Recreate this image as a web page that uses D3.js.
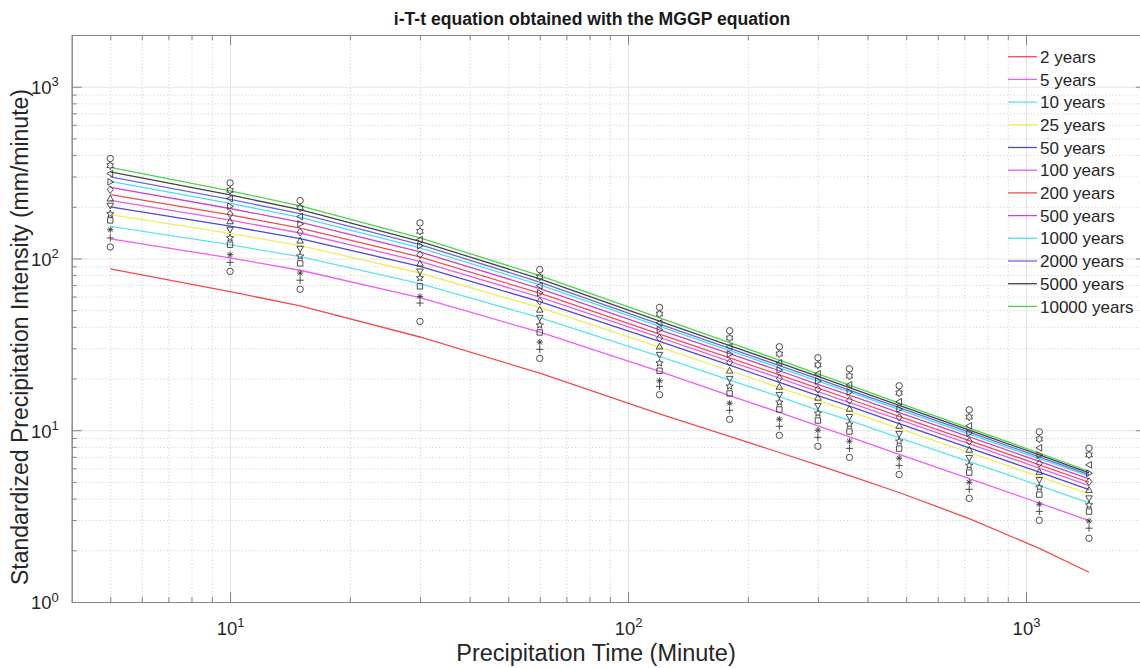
<!DOCTYPE html>
<html>
<head>
<meta charset="utf-8">
<script src="https://cdn.jsdelivr.net/npm/d3@7"></script>
<style>
  html, body { margin: 0; padding: 0; background: #fff; }
  svg { display: block; font-family: "Liberation Sans", Arial, Helvetica, sans-serif; }
</style>
</head>
<body>
<svg id="chart" width="1140" height="668"></svg>
<script>
// ---------------- DATA ----------------
const durations = [5, 10, 15, 30, 60, 120, 180, 240, 300, 360, 480, 720, 1080, 1440];
const periodLabels = ["2 years", "5 years", "10 years", "25 years", "50 years", "100 years",
  "200 years", "500 years", "1000 years", "2000 years", "5000 years", "10000 years"];
const lineColors = ["#f24b4b", "#f25cf2", "#5ce6ec", "#eeee5a", "#4b4bd9", "#e860e8",
  "#ef4f4f", "#cc44cc", "#4cdcf0", "#6a6ae0", "#444444", "#4cd44c"];
const markerTypes = ["o", "+", "*", "s", "p", "v", "^", "d", ">", "<", "h", "o"];

// fitted (MGGP) curves
const fit2     = [86.9, 64.1, 52.9, 34.9, 21.5, 12.46, 9.21, 7.42, 6.27, 5.45, 4.34, 3.06, 2.05, 1.49];
const fit5     = [129.9, 100.8, 85.4, 59.1, 37.2, 22.0, 15.9, 12.7, 10.6, 9.14, 7.24, 5.23, 3.77, 2.98];
const fit10    = [153.9, 120.3, 102.4, 71.3, 45.2, 26.9, 19.6, 15.7, 13.1, 11.4, 9.04, 6.57, 4.76, 3.78];
const fit25    = [180.0, 140.0, 118.8, 82.3, 51.7, 30.5, 22.2, 17.7, 14.9, 12.9, 10.23, 7.42, 5.37, 4.26];
const fit50    = [199.6, 154.3, 130.5, 90.0, 56.1, 32.9, 23.9, 19.0, 15.9, 13.8, 10.92, 7.90, 5.70, 4.51];
const fit100   = [218.1, 167.2, 140.7, 96.2, 59.6, 34.7, 25.2, 20.1, 16.8, 14.5, 11.52, 8.33, 6.02, 4.76];
const fit200   = [235.4, 179.3, 150.3, 102.1, 62.8, 36.3, 26.4, 21.0, 17.6, 15.2, 12.05, 8.71, 6.29, 4.98];
const fit500   = [259.7, 195.4, 162.7, 109.1, 66.8, 38.4, 27.9, 22.2, 18.5, 16.0, 12.68, 9.15, 6.59, 5.21];
const fit1000  = [281.4, 209.6, 173.4, 115.2, 70.2, 40.2, 29.1, 23.1, 19.3, 16.7, 13.18, 9.50, 6.83, 5.40];
const fit2000  = [298.5, 221.0, 182.3, 120.4, 72.9, 41.5, 30.0, 23.8, 19.9, 17.1, 13.54, 9.75, 7.00, 5.52];
const fit5000  = [319.3, 234.3, 192.3, 125.8, 76.1, 43.2, 31.1, 24.7, 20.6, 17.7, 13.96, 10.02, 7.18, 5.65];
const fit10000 = [339.6, 247.7, 202.5, 131.7, 79.5, 45.1, 32.4, 25.6, 21.3, 18.3, 14.4, 10.3, 7.35, 5.77];

// observed (standardized) intensities
const obs2     = [116.7, 84.1, 66.2, 43.0, 26.2, 16.1, 11.57, 9.34, 8.06, 6.95, 5.53, 4.01, 2.99, 2.35];
const obs5     = [131.7, 94.9, 74.7, 55.0, 29.6, 18.0, 13.06, 10.54, 9.09, 7.84, 6.24, 4.53, 3.37, 2.69];
const obs10    = [147.2, 105.2, 82.2, 60.1, 32.6, 19.4, 14.37, 11.59, 10.0, 8.63, 6.87, 4.98, 3.71, 2.96];
const obs25    = [166.7, 120.3, 93.6, 68.8, 37.1, 22.2, 16.37, 13.20, 11.39, 9.83, 7.82, 5.67, 4.22, 3.36];
const obs50    = [181.7, 131.7, 103.1, 77.0, 40.9, 24.6, 18.03, 14.54, 12.55, 10.82, 8.62, 6.24, 4.65, 3.67];
const obs100   = [203.1, 147.2, 114.0, 84.1, 45.2, 27.5, 19.93, 16.08, 13.87, 11.97, 9.53, 6.91, 5.14, 4.02];
const obs200   = [223.1, 164.5, 127.0, 93.3, 50.3, 30.7, 22.2, 17.90, 15.45, 13.33, 10.61, 7.69, 5.72, 4.49];
const obs500   = [251.7, 181.7, 142.3, 105.2, 56.4, 34.4, 24.87, 20.07, 17.31, 14.94, 11.89, 8.62, 6.41, 5.02];
const obs1000  = [279.1, 201.2, 158.9, 118.7, 63.0, 38.5, 27.77, 22.40, 19.32, 16.67, 13.27, 9.62, 7.16, 5.62];
const obs2000  = [312.0, 223.1, 175.2, 128.7, 69.4, 42.1, 30.62, 24.70, 21.31, 18.39, 14.64, 10.61, 7.90, 6.29];
const obs5000  = [347.4, 249.4, 197.2, 143.9, 78.1, 47.5, 34.46, 27.81, 23.99, 20.70, 16.48, 11.94, 8.89, 7.19];
const obs10000 = [381.6, 275.4, 217.2, 161.0, 86.1, 51.9, 37.96, 30.62, 26.42, 22.79, 18.14, 13.15, 9.79, 7.86];

const xMajorTicks = [10, 100, 1000];
const xMinorTicks = [5, 6, 7, 8, 9, 20, 30, 40, 50, 60, 70, 80, 90, 200, 300, 400, 500, 600, 700, 800, 900, 2000];
const yMajorTicks = [1, 10, 100, 1000];
const yMinorTicks = [2, 3, 4, 5, 6, 7, 8, 9, 20, 30, 40, 50, 60, 70, 80, 90, 200, 300, 400, 500, 600, 700, 800, 900, 2000];

const titleText = "i-T-t equation obtained with the MGGP equation";
const xLabelText = "Precipitation Time (Minute)";
const yLabelText = "Standardized Precipitation Intensity (mm/minute)";

const fits = [fit2, fit5, fit10, fit25, fit50, fit100, fit200, fit500, fit1000, fit2000, fit5000, fit10000];
const obs = [obs2, obs5, obs10, obs25, obs50, obs100, obs200, obs500, obs1000, obs2000, obs5000, obs10000];

// ---------------- LAYOUT ----------------
const svg = d3.select("#chart");
const L = 71.7, R = 1145.8, T = 35, B = 602;
const x = d3.scaleLog().domain([4, 2000]).range([L, R]);
const y = d3.scaleLog().domain([1, 2000]).range([B, T]);
const W = R - L, H = B - T;

svg.append("defs").append("clipPath").attr("id", "clip")
  .append("rect").attr("x", L).attr("y", T).attr("width", W).attr("height", H);

svg.append("rect").attr("x", L).attr("y", T).attr("width", W).attr("height", H).attr("fill", "#fff");

// grids
const gridG = svg.append("g");
function grid(axisGen, transform, dashed, color) {
  const g = gridG.append("g").attr("transform", transform).call(axisGen);
  g.select(".domain").remove();
  g.selectAll("text").remove();
  g.selectAll("line").attr("stroke", color).attr("stroke-width", 1)
    .attr("stroke-dasharray", dashed ? "1.2,2.2" : null);
}
grid(d3.axisBottom(x).tickValues(xMinorTicks.filter(v => v < 2000)).tickSize(-H), `translate(0,${B})`, true, "#d2d2d2");
grid(d3.axisLeft(y).tickValues(yMinorTicks.filter(v => v < 2000)).tickSize(-W), `translate(${L},0)`, true, "#d2d2d2");
grid(d3.axisBottom(x).tickValues(xMajorTicks).tickSize(-H), `translate(0,${B})`, false, "#e4e4e4");
grid(d3.axisLeft(y).tickValues(yMajorTicks).tickSize(-W), `translate(${L},0)`, false, "#e4e4e4");

// lines
const plotG = svg.append("g").attr("clip-path", "url(#clip)");
const lineGen = d3.line().x((d, i) => x(durations[i])).y(d => y(d));
fits.forEach((s, k) => {
  plotG.append("path").datum(s).attr("d", lineGen)
    .attr("fill", "none").attr("stroke", lineColors[k]).attr("stroke-width", 1.3);
});

// markers
function markerPath(t) {
  const r = 3.2;
  switch (t) {
    case "o": return `M${r},0 A${r},${r} 0 1,1 ${-r},0 A${r},${r} 0 1,1 ${r},0 Z`;
    case "+": return `M${-r - 0.4},0 H${r + 0.4} M0,${-r - 0.4} V${r + 0.4}`;
    case "*": { const a = r * 0.72; return `M${-r},0 H${r} M0,${-r} V${r} M${-a},${-a} L${a},${a} M${-a},${a} L${a},${-a}`; }
    case "s": return `M-2.7,-2.7 H2.7 V2.7 H-2.7 Z`;
    case "p": case "h": {
      const n = t === "p" ? 5 : 6, ro = 3.8, ri = t === "p" ? 1.6 : 2.2;
      let pts = [];
      for (let i = 0; i < 2 * n; i++) {
        const ang = -Math.PI / 2 + i * Math.PI / n, rr = i % 2 ? ri : ro;
        pts.push([rr * Math.cos(ang), rr * Math.sin(ang)]);
      }
      return "M" + pts.map(p => p[0].toFixed(2) + "," + p[1].toFixed(2)).join("L") + "Z";
    }
    case "v": return `M-3.3,-2.4 L3.3,-2.4 L0,3.4 Z`;
    case "^": return `M-3.3,2.4 L3.3,2.4 L0,-3.4 Z`;
    case "d": return `M0,-3.8 L3,0 L0,3.8 L-3,0 Z`;
    case ">": return `M-2.4,-3.3 L3.4,0 L-2.4,3.3 Z`;
    case "<": return `M2.4,-3.3 L-3.4,0 L2.4,3.3 Z`;
  }
  return "";
}
obs.forEach((s, k) => {
  plotG.append("g").selectAll("path").data(s).join("path")
    .attr("transform", (d, i) => `translate(${x(durations[i])},${y(d)})`)
    .attr("d", markerPath(markerTypes[k]))
    .attr("fill", "none").attr("stroke", "#3a3a3a").attr("stroke-width", 0.9);
});

// axes (ticks pointing inward, box on)
const axisColor = "#858585";
function styleAxis(g) {
  g.select(".domain").attr("stroke", axisColor);
  g.selectAll("line").attr("stroke", axisColor);
}
const fmtExp = (g) => {
  g.attr("font-size", null).attr("font-family", null);
  g.selectAll(".tick text").each(function (d) {
    const t = d3.select(this);
    t.text(null).attr("fill", "#262626").style("font-size", "18.5px");
    t.append("tspan").text("10");
    t.append("tspan").style("font-size", "13px").attr("dy", "-0.6em").text(Math.round(Math.log10(d)));
  });
};
svg.append("g").attr("transform", `translate(0,${B})`)
  .call(d3.axisBottom(x).tickValues(xMinorTicks).tickSize(-5).tickSizeOuter(0).tickFormat(""))
  .call(styleAxis);
svg.append("g").attr("transform", `translate(0,${B})`)
  .call(d3.axisBottom(x).tickValues(xMajorTicks).tickSize(-10).tickSizeOuter(0).tickPadding(24))
  .call(styleAxis).call(fmtExp)
  .call(g => g.selectAll(".tick text").attr("dy", "9"));
svg.append("g").attr("transform", `translate(0,${T})`)
  .call(d3.axisTop(x).tickValues(xMinorTicks).tickSize(-5).tickSizeOuter(0).tickFormat(""))
  .call(styleAxis);
svg.append("g").attr("transform", `translate(0,${T})`)
  .call(d3.axisTop(x).tickValues(xMajorTicks).tickSize(-10).tickSizeOuter(0).tickFormat(""))
  .call(styleAxis);
svg.append("g").attr("transform", `translate(${L},0)`)
  .call(d3.axisLeft(y).tickValues(yMinorTicks).tickSize(-5).tickSizeOuter(0).tickFormat(""))
  .call(styleAxis);
svg.append("g").attr("transform", `translate(${L},0)`)
  .call(d3.axisLeft(y).tickValues(yMajorTicks).tickSize(-10).tickSizeOuter(0).tickPadding(13))
  .call(styleAxis).call(fmtExp)
  .call(g => g.selectAll(".tick text").attr("dy", "6.8"));
svg.append("g").attr("transform", `translate(${R},0)`)
  .call(d3.axisRight(y).tickValues(yMajorTicks).tickSize(-10).tickSizeOuter(0).tickFormat(""))
  .call(styleAxis);

// legend (transparent, no box)
const legG = svg.append("g");
periodLabels.forEach((lab, k) => {
  const yy = 56.7 + k * 22.7;
  legG.append("line").attr("x1", 1008).attr("x2", 1037).attr("y1", yy).attr("y2", yy)
    .attr("stroke", lineColors[k]).attr("stroke-width", 1.3);
  legG.append("text").attr("x", 1040).attr("y", yy).attr("dy", "0.36em")
    .style("font-size", "17px").attr("fill", "#262626").text(lab);
});

// title & labels
svg.append("text").attr("x", 592).attr("y", 25).attr("text-anchor", "middle")
  .style("font-size", "17.6px").attr("font-weight", "bold").attr("fill", "#1a1a1a").text(titleText);
svg.append("text").attr("x", 596).attr("y", 661).attr("text-anchor", "middle")
  .style("font-size", "23.5px").attr("fill", "#262626").text(xLabelText);
svg.append("text").attr("transform", "translate(28,337) rotate(-90)").attr("text-anchor", "middle")
  .style("font-size", "23px").attr("fill", "#262626").text(yLabelText);
</script>
</body>
</html>
